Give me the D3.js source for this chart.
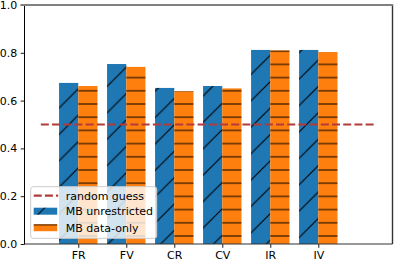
<!DOCTYPE html>
<html>
<head>
<script src="https://d3js.org/d3.v7.min.js"></script>
<style>
body { margin: 0; background: #fff; }
text { font-family: "DejaVu Sans", sans-serif; }
</style>
</head>
<body>
<svg width="394" height="262"></svg>
<script>

const categories = ["FR", "FV", "CR", "CV", "IR", "IV"];
const unrestricted = [0.674, 0.753, 0.653, 0.661, 0.812, 0.812];
const dataOnly = [0.661, 0.741, 0.639, 0.651, 0.810, 0.803];
const randomGuess = 0.5;
const yTicks = [0, 0.2, 0.4, 0.6, 0.8, 1.0];
const seriesNames = ["MB unrestricted", "MB data-only"];
const colors = ["#1f77b4", "#ff7f0e"];

var svg = d3.select("svg"),
    padL = 24.5, padR = 392.5, padT = 5, padB = 244;

// category index -> pixels (FR at 0)
var x = d3.scaleLinear().domain([-1.12, 6.546]).range([padL, padR]);
var y = d3.scaleLinear().domain([0, 1]).range([padB, padT]);
var barW = 0.4;

// hatch patterns
var defs = svg.append("defs");
var hp = 13.2;
var horiz = defs.append("pattern")
    .attr("id", "hatch-h")
    .attr("patternUnits", "userSpaceOnUse")
    .attr("width", 20).attr("height", hp)
    .attr("y", 236 - hp / 2);
horiz.append("line")
    .attr("x1", 0).attr("x2", 20)
    .attr("y1", hp / 2).attr("y2", hp / 2)
    .attr("stroke", "#1a0d00").attr("stroke-width", 1.1);

var dp = 26.4;
var diag = defs.append("pattern")
    .attr("id", "hatch-d")
    .attr("patternUnits", "userSpaceOnUse")
    .attr("width", dp).attr("height", dp)
    .attr("y", 378.3 % dp);
[0, dp, 2 * dp].forEach(function(c) {
  diag.append("line")
      .attr("x1", c + 2).attr("y1", -2)
      .attr("x2", -2).attr("y2", c + 2)
      .attr("stroke", "#000").attr("stroke-width", 1.1);
});
var hatches = ["url(#hatch-d)", "url(#hatch-h)"];

// bars
var series = [unrestricted, dataOnly];
series.forEach(function(vals, s) {
  var g = svg.append("g").attr("class", "series");
  var bars = g.selectAll("g")
    .data(vals)
    .enter().append("g");
  bars.append("rect")
      .attr("x", function(d, i) { return x(i - barW + s * barW); })
      .attr("width", x(barW) - x(0))
      .attr("y", function(d) { return y(d); })
      .attr("height", function(d) { return y(0) - y(d); })
      .attr("fill", colors[s]);
  bars.append("rect")
      .attr("x", function(d, i) { return x(i - barW + s * barW); })
      .attr("width", x(barW) - x(0))
      .attr("y", function(d) { return y(d); })
      .attr("height", function(d) { return y(0) - y(d); })
      .attr("fill", hatches[s]);
});

// random guess line
var guessColor = "#b23a3a";
svg.append("line")
    .attr("x1", x(-0.78)).attr("x2", x(6.18))
    .attr("y1", y(randomGuess)).attr("y2", y(randomGuess))
    .attr("stroke", guessColor)
    .attr("stroke-width", 2.2)
    .attr("stroke-dasharray", "8,3.2");

// axes
var yAxis = svg.append("g")
    .attr("transform", "translate(" + padL + ",0)")
    .call(d3.axisLeft(y).tickValues(yTicks).tickFormat(d3.format(".1f"))
      .tickSize(3.8).tickPadding(3.5));
var xAxis = svg.append("g")
    .attr("transform", "translate(0," + padB + ")")
    .call(d3.axisBottom(x).tickValues(d3.range(categories.length))
      .tickFormat(function(i) { return categories[i]; })
      .tickSize(3.8).tickPadding(3.5));
[yAxis, xAxis].forEach(function(a) {
  a.select(".domain").remove();
  a.selectAll("text").attr("font-size", 11).attr("fill", "#000")
    .style("font-family", "DejaVu Sans");
  a.selectAll("line").attr("stroke", "#000").attr("stroke-width", 0.9);
});

// frame
svg.append("line").attr("x1", padL).attr("x2", padL)
    .attr("y1", padT).attr("y2", padB + 0.5)
    .attr("stroke", "#000").attr("stroke-width", 1);
svg.append("line").attr("x1", padL).attr("x2", padR)
    .attr("y1", padB).attr("y2", padB)
    .attr("stroke", "#333").attr("stroke-width", 1.2);
svg.append("line").attr("x1", padR).attr("x2", padR)
    .attr("y1", padT).attr("y2", padB)
    .attr("stroke", "#333").attr("stroke-width", 1.4);
svg.append("line").attr("x1", 20.5).attr("x2", padR + 0.7)
    .attr("y1", padT).attr("y2", padT)
    .attr("stroke", "#808080").attr("stroke-width", 2);

// legend
var lg = svg.append("g").attr("transform", "translate(30.7,186.7)");
lg.append("rect")
    .attr("width", 126).attr("height", 51.6).attr("rx", 2.5)
    .attr("fill", "#fff").attr("fill-opacity", 0.8)
    .attr("stroke", "#ccc").attr("stroke-width", 1);
lg.append("line")
    .attr("x1", 3).attr("x2", 27.5).attr("y1", 9).attr("y2", 9)
    .attr("stroke", guessColor).attr("stroke-width", 2.2)
    .attr("stroke-dasharray", "8,3.2");
lg.append("text").attr("x", 35).attr("y", 9).attr("dy", "0.35em")
    .attr("font-size", 11).text("random guess");
seriesNames.forEach(function(name, s) {
  var cy = 24.5 + s * 16.5;
  lg.append("rect").attr("x", 3).attr("y", cy - 3.5)
      .attr("width", 23.5).attr("height", 7).attr("fill", colors[s]);
  lg.append("rect").attr("x", 3).attr("y", cy - 3.5)
      .attr("width", 23.5).attr("height", 7).attr("fill", hatches[s]);
  lg.append("text").attr("x", 35).attr("y", cy).attr("dy", "0.35em")
      .attr("font-size", 11).text(name);
});

</script>
</body>
</html>
